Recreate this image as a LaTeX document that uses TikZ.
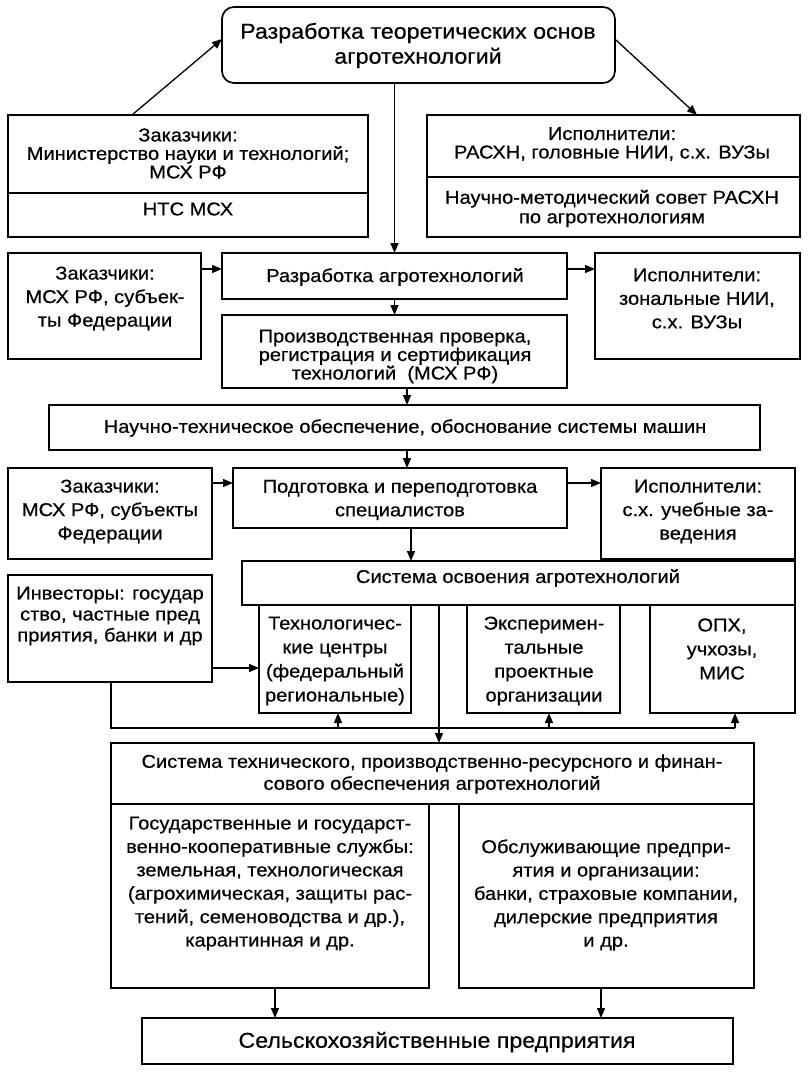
\documentclass[tikz,border=0pt]{standalone}
\usepackage{fontspec}
\setmainfont{Liberation Sans}[FakeStretch=1.08,FakeBold=0.5]
\usetikzlibrary{arrows.meta,calc}
\newcommand\bx[6][]{\node[box,anchor=north west,minimum width=#4pt-#2pt,minimum height=#5pt-#3pt,#1] (#6) at (#2,#3) {};}
\newcommand\fa{\fontsize{18.6}{18.5}\selectfont}
\newcommand\fb{\fontsize{18.6}{23.5}\selectfont}
\newcommand\fc{\fontsize{18.6}{21}\selectfont}
\newcommand\fbig{\fontsize{21.5}{25}\selectfont}
\begin{document}
\begin{tikzpicture}[x=1pt,y=-1pt,
  box/.style={draw,line width=1.7pt,inner sep=0pt,outer sep=0pt},
  txt/.style={align=center,inner sep=0pt,font=\fa},
  arr/.style={line width=1.3pt,-{Triangle[length=10pt,width=8pt]}},
  ln/.style={line width=1.3pt}]
\useasboundingbox (0,0) rectangle (807,1073);
% boxes
\bx[rounded corners=12pt]{222}{7}{615}{83}{top}
\bx{8}{115}{368}{193}{zakA}
\bx{8}{193}{368}{237}{zakB}
\bx{427}{115}{800}{177}{ispA}
\bx{427}{177}{800}{237}{ispB}
\bx{8}{253}{201}{359}{zakC}
\bx{222}{253}{567}{299}{razr}
\bx{595}{253}{800}{359}{ispC}
\bx{222}{315}{567}{388}{prod}
\bx{49}{405}{760}{450}{nto}
\bx{8}{468}{212}{559}{zakD}
\bx{233}{468}{567}{528}{podg}
\bx{601}{468}{795}{559}{ispD}
\bx{242}{561}{795}{605}{sys}
\bx{8}{575}{212}{682}{inv}
\bx{259}{605}{411}{713}{tech}
\bx{467}{605}{620}{713}{expr}
\bx{650}{605}{795}{713}{opx}
\bx{111}{743}{754}{804}{stex}
\bx{111}{804}{429}{988}{gos}
\bx{459}{804}{754}{988}{obs}
\bx{142}{1018}{733}{1064}{selh}
% texts
\node[txt,font=\fbig] (topT) at (418,45.5) {Разработка теоретических основ\\агротехнологий};
\node[txt] (zakAT) at (188,153.5) {Заказчики:\\Министерство науки и технологий;\\МСХ РФ};
\node[txt] (zakBT) at (188,209) {НТС МСХ};
\node[txt] (ispAT) at (612,144) {Исполнители:\\РАСХН, головные НИИ, с.х. ВУЗы};
\node[txt,font=\fontsize{18.6}{19.5}\selectfont] (ispBT) at (612,208.5) {Научно-методический совет РАСХН\\по агротехнологиям};
\node[txt,font=\fb] (zakCT) at (105,298.5) {Заказчики:\\МСХ РФ, субъек-\\ты Федерации};
\node[txt] (razrT) at (395,277) {Разработка агротехнологий};
\node[txt,font=\fb] (ispCT) at (697,298.5) {Исполнители:\\зональные НИИ,\\с.х. ВУЗы};
\node[txt] (prodT) at (395,356.5) {Производственная проверка,\\регистрация и сертификация\\технологий~~(МСХ РФ)};
\node[txt] (ntoT) at (405,428) {Научно-техническое обеспечение, обоснование системы машин};
\node[txt,font=\fb] (zakDT) at (110,511.5) {Заказчики:\\МСХ РФ, субъекты\\Федерации};
\node[txt,font=\fb] (podgT) at (400,500) {Подготовка и переподготовка\\специалистов};
\node[txt,font=\fb] (ispDT) at (698,511.5) {Исполнители:\\с.х. учебные за-\\ведения};
\node[txt] (sysT) at (518,578) {Система освоения агротехнологий};
\node[txt,font=\fc] (invT) at (110,616) {Инвесторы: государ\\ство, частные пред\\приятия, банки и др};
\node[txt,font=\fontsize{18.6}{24}\selectfont] (techT) at (335,661) {Технологичес-\\кие центры\\(федеральный\\региональные)};
\node[txt,font=\fontsize{18.6}{24}\selectfont] (exprT) at (544,661) {Эксперимен-\\тальные\\проектные\\организации};
\node[txt,font=\fontsize{18.6}{24}\selectfont] (opxT) at (722,649) {ОПХ,\\учхозы,\\МИС};
\node[txt,font=\fontsize{18.6}{22}\selectfont] (stexT) at (432,774) {Система технического, производственно-ресурсного и финан-\\сового обеспечения агротехнологий};
\node[txt,font=\fontsize{18.6}{23.4}\selectfont] (gosT) at (270,883.5) {Государственные и государст-\\венно-кооперативные службы:\\земельная, технологическая\\(агрохимическая, защиты рас-\\тений, семеноводства и др.),\\карантинная и др.};
\node[txt,font=\fontsize{18.6}{23.4}\selectfont] (obsT) at (606,895) {Обслуживающие предпри-\\ятия и организации:\\банки, страховые компании,\\дилерские предприятия\\и др.};
\node[txt,font=\fbig] (selhT) at (437,1042) {Сельскохозяйственные предприятия};
% connectors
\draw[arr] ($(zakA.north west)+(124,0)$) -- ($(top.north west)+(0,32)$);
\draw[arr] ($(top.north east)+(1,33)$) -- ($(ispA.north west)+(270,0)$);
\draw[arr] (top.south -| razr.north) -- (razr.north);
\draw[arr] ($(zakC.north east)+(0,16)$) -- ($(razr.north west)+(0,16)$);
\draw[arr] ($(razr.north east)+(0,16)$) -- ($(ispC.north west)+(0,16)$);
\draw[arr] (razr.south) -- (prod.north);
\draw[arr] ($(prod.south west)+(185,0)$) -- ($(prod.south west)+(185,17)$);
\draw[arr] ($(nto.south west)+(358,0)$) -- ($(nto.south west)+(358,18)$);
\draw[arr] ($(zakD.north east)+(0,15)$) -- ($(podg.north west)+(0,15)$);
\draw[arr] ($(podg.north east)+(0,15)$) -- ($(ispD.north west)+(0,15)$);
\draw[arr] ($(podg.south west)+(178,0)$) -- ($(podg.south west)+(178,33)$);
\draw[arr] ($(inv.south east)+(0,-14)$) -- ($(tech.south west)+(0,-45)$);
\coordinate (bus) at ($(inv.south west)+(103,46)$);
\draw[ln] (inv.south -| bus) -- (bus) -- ($(opx.south west)+(85,15)$);
\draw[arr] ($(tech.south west)+(79,15)$) -- ($(tech.south west)+(79,0)$);
\draw[arr] ($(expr.south west)+(82,15)$) -- ($(expr.south west)+(82,0)$);
\draw[arr] ($(opx.south west)+(85,15)$) -- ($(opx.south west)+(85,0)$);
\draw[arr] ($(sys.south west)+(197,0)$) -- ($(stex.north west)+(328,0)$);
\draw[arr] ($(gos.south west)+(164,0)$) -- ($(selh.north west)+(133,0)$);
\draw[arr] ($(obs.south west)+(142,0)$) -- ($(selh.north west)+(459,0)$);
\end{tikzpicture}
\end{document}
